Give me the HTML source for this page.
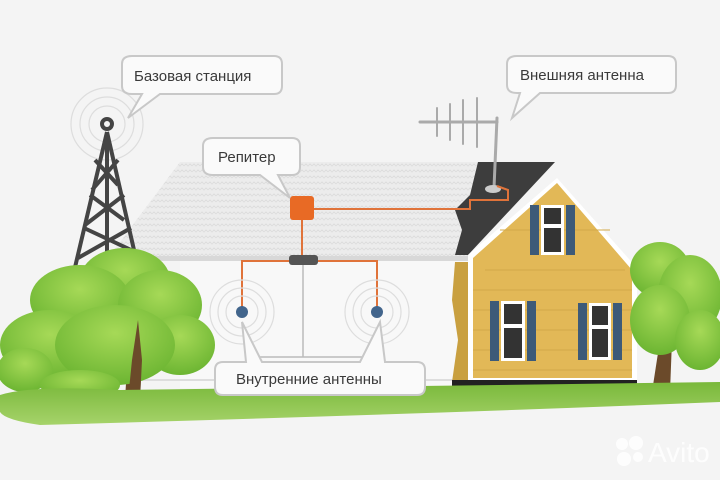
<!DOCTYPE html>
<html><head><meta charset="utf-8"><style>
html,body{margin:0;padding:0;background:#f4f4f4;}
svg{display:block}
text{font-family:"Liberation Sans",sans-serif;fill:#3a3a3a;font-size:15px}
</style></head><body>
<svg width="720" height="480" viewBox="0 0 720 480" xmlns="http://www.w3.org/2000/svg">
<defs>
<pattern id="zz" width="8" height="6" patternUnits="userSpaceOnUse">
<rect width="8" height="6" fill="#ececec"/>
<path d="M0 4 L2 2 L4 4 L6 2 L8 4" stroke="#dcdcdc" fill="none" stroke-width="0.8"/>
</pattern>
<radialGradient id="tg" cx="50%" cy="35%" r="65%">
<stop offset="0" stop-color="#a6d957"/><stop offset="1" stop-color="#6cb532"/>
</radialGradient>
<linearGradient id="gg" x1="0" y1="0" x2="0" y2="1">
<stop offset="0" stop-color="#79b83a"/><stop offset="1" stop-color="#a6d36a"/>
</linearGradient>
</defs>
<rect width="720" height="480" fill="#f4f4f4"/>
<rect x="180" y="258" width="290" height="130" fill="#f8f8f8"/>
<line x1="140" y1="380" x2="470" y2="380" stroke="#ddd" stroke-width="2"/>
<polygon points="180,162 480,162 470,258 108,258" fill="url(#zz)"/>
<rect x="108" y="256" width="362" height="5" fill="#d8d8d8"/>
<polygon points="478,162 555,162 468,255 455,255 462,230 455,210 470,195" fill="#3d3d3d"/>
<polygon points="455,262 468,262 468,382 452,382 458,340 452,300" fill="#c9a040"/>
<polygon points="468,255 557,178 637,268 637,382 468,382" fill="#fff"/>
<polygon points="473,258 557,183 632,270 632,378 473,378" fill="#e2b857"/>
<g stroke="#d2a848" stroke-width="1">
<line x1="473" y1="290" x2="632" y2="290"/><line x1="473" y1="310" x2="632" y2="310"/><line x1="473" y1="330" x2="632" y2="330"/><line x1="473" y1="350" x2="632" y2="350"/><line x1="473" y1="370" x2="632" y2="370"/><line x1="500" y1="230" x2="610" y2="230"/><line x1="485" y1="270" x2="625" y2="270"/>
</g>
<rect x="452" y="380" width="185" height="25" fill="#222"/>
<g>
<rect x="530" y="205" width="9" height="50" fill="#3d5a78"/><rect x="566" y="205" width="9" height="50" fill="#3d5a78"/>
<rect x="541" y="205" width="23" height="50" fill="#fff"/><rect x="544" y="208" width="17" height="16" fill="#333"/><rect x="544" y="228" width="17" height="24" fill="#333"/>
<rect x="490" y="301" width="9" height="60" fill="#3d5a78"/><rect x="527" y="301" width="9" height="60" fill="#3d5a78"/>
<rect x="501" y="301" width="24" height="60" fill="#fff"/><rect x="504" y="304" width="18" height="20" fill="#333"/><rect x="504" y="328" width="18" height="30" fill="#333"/>
<rect x="578" y="303" width="9" height="57" fill="#3d5a78"/><rect x="613" y="303" width="9" height="57" fill="#3d5a78"/>
<rect x="589" y="303" width="22" height="57" fill="#fff"/><rect x="592" y="306" width="16" height="19" fill="#333"/><rect x="592" y="329" width="16" height="28" fill="#333"/>
</g>
<g stroke="#aaa" stroke-width="3" stroke-linecap="round">
<line x1="420" y1="122" x2="497" y2="122"/><line x1="497" y1="118" x2="494" y2="188"/>
<line x1="437" y1="108" x2="437" y2="136" stroke-width="2"/><line x1="450" y1="104" x2="450" y2="140" stroke-width="2"/><line x1="463" y1="100" x2="463" y2="144" stroke-width="2"/><line x1="477" y1="98" x2="477" y2="147" stroke-width="2"/>
</g>
<ellipse cx="493" cy="189" rx="8" ry="4" fill="#ccc"/>
<polyline points="314,209 470,209 470,200 508,200 508,190 497,186" fill="none" stroke="#e0733a" stroke-width="2"/>
<line x1="302" y1="220" x2="302" y2="258" stroke="#e0733a" stroke-width="2"/>
<polyline points="242,312 242,261 377,261 377,312" fill="none" stroke="#e0733a" stroke-width="2"/>
<line x1="303" y1="264" x2="303" y2="357" stroke="#bbb" stroke-width="1.5"/>
<line x1="250" y1="357" x2="385" y2="357" stroke="#bbb" stroke-width="1.5"/>
<rect x="290" y="196" width="24" height="24" rx="3" fill="#e86a25"/>
<rect x="289" y="255" width="29" height="10" rx="3" fill="#555"/>
<g fill="none" stroke="#ddd" stroke-width="1.2">
<circle cx="242" cy="312" r="16"/><circle cx="242" cy="312" r="24"/><circle cx="242" cy="312" r="32"/>
<circle cx="377" cy="312" r="16"/><circle cx="377" cy="312" r="24"/><circle cx="377" cy="312" r="32"/>
<circle cx="107" cy="124" r="18"/><circle cx="107" cy="124" r="27"/><circle cx="107" cy="124" r="36"/>
</g>
<circle cx="242" cy="312" r="6" fill="#42658c"/><circle cx="377" cy="312" r="6" fill="#42658c"/>
<g stroke="#444" stroke-width="4" fill="none">
<circle cx="107" cy="124" r="5"/>
<line x1="107" y1="132" x2="72" y2="280"/><line x1="107" y1="132" x2="134" y2="250"/>
<line x1="107" y1="132" x2="107" y2="260"/>
<line x1="95" y1="160" x2="118" y2="185"/><line x1="118" y1="160" x2="92" y2="190"/>
<line x1="90" y1="195" x2="124" y2="220"/><line x1="124" y1="195" x2="85" y2="225"/>
<line x1="84" y1="228" x2="131" y2="250"/><line x1="131" y1="228" x2="78" y2="258"/>
</g>
<!-- trees -->
<path d="M125 400 L128 350 L135 300 L142 350 L140 400Z" fill="#6b4a2a"/>
<path d="M652 392 L660 340 L672 340 L670 392Z" fill="#6b4a2a"/>
<g fill="url(#tg)">
<ellipse cx="125" cy="280" rx="45" ry="32"/>
<ellipse cx="80" cy="300" rx="50" ry="35"/>
<ellipse cx="160" cy="305" rx="42" ry="35"/>
<ellipse cx="50" cy="345" rx="50" ry="35"/>
<ellipse cx="180" cy="345" rx="35" ry="30"/>
<ellipse cx="115" cy="345" rx="60" ry="40"/>
<ellipse cx="25" cy="370" rx="28" ry="22"/>
<ellipse cx="80" cy="385" rx="40" ry="15"/>
<ellipse cx="660" cy="270" rx="30" ry="28"/>
<ellipse cx="690" cy="295" rx="32" ry="40"/>
<ellipse cx="660" cy="320" rx="30" ry="35"/>
<ellipse cx="700" cy="340" rx="25" ry="30"/>
</g>
<path d="M128 400 L132 360 L138 320 L142 360 L140 400Z" fill="#6b4a2a"/>
<!-- grass -->
<path d="M0 395 Q30 385 120 390 L720 382 L720 402 Q400 415 40 425 Q5 420 0 412Z" fill="url(#gg)"/>
<g fill="none" stroke="#eee" stroke-width="2">
<circle cx="0" cy="0" r="0"/>
</g>
<g fill="#fafafa" stroke="#c8c8c8" stroke-width="2">
<path d="M132 56 H274 Q282 56 282 64 V86 Q282 94 274 94 H160 L128 118 L142 94 H132 Q122 94 122 86 V64 Q122 56 132 56Z"/>
<path d="M213 138 H292 Q300 138 300 146 V167 Q300 175 292 175 H278 L290 198 L260 175 H213 Q203 175 203 167 V146 Q203 138 213 138Z"/>
<path d="M517 56 H668 Q676 56 676 64 V85 Q676 93 668 93 H540 L512 118 L520 93 H517 Q507 93 507 85 V64 Q507 56 517 56Z"/>
<path d="M223 362 H246 L242 322 L262 362 H360 L380 322 L385 362 H417 Q425 362 425 370 V387 Q425 395 417 395 H223 Q215 395 215 387 V370 Q215 362 223 362Z"/>
</g>
<text x="134" y="81">Базовая станция</text>
<text x="218" y="162">Репитер</text>
<text x="520" y="80">Внешняя антенна</text>
<text x="236" y="384">Внутренние антенны</text>
<g fill="#fff" opacity="0.9"><circle cx="622" cy="444" r="6"/><circle cx="636" cy="443" r="7"/><circle cx="624" cy="459" r="7"/><circle cx="638" cy="457" r="5"/></g>
<text x="648" y="462" style="fill:#fff;font-size:28px;opacity:0.9">Avito</text>
</svg>
</body></html>
